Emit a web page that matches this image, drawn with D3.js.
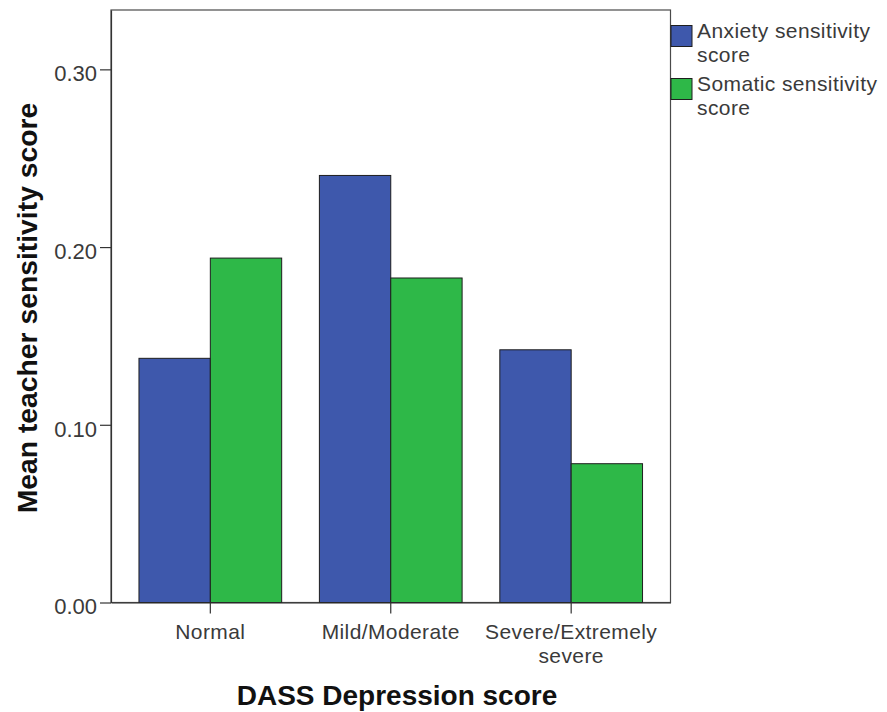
<!DOCTYPE html>
<html>
<head>
<meta charset="utf-8">
<script src="https://cdn.jsdelivr.net/npm/d3@7"></script>
<style>
  html, body { margin: 0; padding: 0; background: #ffffff; }
  svg { display: block; }
  text { font-family: "Liberation Sans", Arial, sans-serif; }
</style>
</head>
<body>
<svg id="chart" width="887" height="712"></svg>
<script>
// ---- data ----
const categories = ["Normal", "Mild/Moderate", "Severe/Extremely severe"];
const categoryLabelLines = [["Normal"], ["Mild/Moderate"], ["Severe/Extremely", "severe"]];
const seriesNames = ["Anxiety sensitivity score", "Somatic sensitivity score"];
const seriesLabelLines = [["Anxiety sensitivity", "score"], ["Somatic sensitivity", "score"]];
const anxietyValues = [0.1374, 0.2403, 0.1422];
const somaticValues = [0.1938, 0.1826, 0.0781];
const yTicks = [0.00, 0.10, 0.20, 0.30];
const yMax = 0.3334;
const seriesColors = ["#3E58AC", "#2EB848"];
const xTitle = "DASS Depression score";
const yTitle = "Mean teacher sensitivity score";

// ---- layout ----
const plot = { left: 111, right: 670.5, top: 10, bottom: 602.5 };
const svg = d3.select("#chart");

const x = d3.scaleBand()
  .domain(categories)
  .range([plot.left, plot.right])
  .paddingInner(0.209)
  .paddingOuter(0.155);

const xSub = d3.scaleBand()
  .domain(seriesNames)
  .range([0, x.bandwidth()])
  .padding(0);

const y = d3.scaleLinear()
  .domain([0, yMax])
  .range([plot.bottom, plot.top]);

const seriesValues = [anxietyValues, somaticValues];
const rows = [];
categories.forEach((c, ci) => {
  seriesNames.forEach((s, si) => {
    rows.push({ cat: c, series: s, si: si, value: seriesValues[si][ci] });
  });
});

// frame
svg.append("rect")
  .attr("x", plot.left)
  .attr("y", plot.top)
  .attr("width", plot.right - plot.left)
  .attr("height", plot.bottom - plot.top)
  .attr("fill", "none")
  .attr("stroke", "#4a4a4a")
  .attr("stroke-width", 1.2);

// bars
svg.append("g")
  .selectAll("rect")
  .data(rows)
  .join("rect")
  .attr("x", d => x(d.cat) + xSub(d.series))
  .attr("y", d => y(d.value))
  .attr("width", xSub.bandwidth())
  .attr("height", d => y(0) - y(d.value))
  .attr("fill", d => seriesColors[d.si])
  .attr("stroke", "#1e1e1e")
  .attr("stroke-width", 1);

// y axis
const yAxis = d3.axisLeft(y)
  .tickValues(yTicks)
  .tickFormat(d3.format(".2f"))
  .tickSizeInner(11)
  .tickSizeOuter(0)
  .tickPadding(3);
const gy = svg.append("g")
  .attr("transform", `translate(${plot.left},0)`)
  .call(yAxis);
gy.select(".domain").attr("stroke", "#333").attr("stroke-width", 1.2);
gy.selectAll(".tick line").attr("stroke", "#333").attr("stroke-width", 1.2);
gy.selectAll(".tick text")
  .attr("fill", "#3a3a3a")
  .attr("font-size", 22)
  .attr("dy", "0.52em")
  .style("font-family", "'Liberation Sans', Arial, sans-serif");

// x axis
const xAxis = d3.axisBottom(x).tickSizeInner(11).tickSizeOuter(0).tickFormat(() => "");
const gx = svg.append("g")
  .attr("transform", `translate(0,${plot.bottom})`)
  .call(xAxis);
gx.select(".domain").attr("stroke", "#333").attr("stroke-width", 1.2);
gx.selectAll(".tick line").attr("stroke", "#333").attr("stroke-width", 1.2);
gx.selectAll(".tick text").remove();
gx.selectAll(".tick")
  .append("text")
  .attr("text-anchor", "middle")
  .attr("fill", "#3a3a3a")
  .attr("font-size", 21)
  .attr("letter-spacing", 0.4)
  .style("font-family", "'Liberation Sans', Arial, sans-serif")
  .each(function(d) {
    const lines = categoryLabelLines[categories.indexOf(d)];
    const t = d3.select(this);
    lines.forEach((ln, i) => {
      t.append("tspan").attr("x", 0).attr("y", 36 + i * 24).text(ln);
    });
  });

// axis titles
svg.append("text")
  .attr("x", 397)
  .attr("y", 705)
  .attr("text-anchor", "middle")
  .attr("font-size", 28)
  .attr("font-weight", "bold")
  .attr("fill", "#111")
  .text(xTitle);

svg.append("text")
  .attr("transform", "translate(37,308) rotate(-90)")
  .attr("text-anchor", "middle")
  .attr("font-size", 28.3)
  .attr("font-weight", "bold")
  .attr("fill", "#111")
  .text(yTitle);

// legend
const legend = svg.append("g");
seriesNames.forEach((s, i) => {
  const g = legend.append("g").attr("transform", `translate(671,${25.5 + i * 53})`);
  g.append("rect")
    .attr("width", 21).attr("height", 21)
    .attr("fill", seriesColors[i])
    .attr("stroke", "#1e1e1e").attr("stroke-width", 1);
  const t = g.append("text")
    .attr("font-size", 21)
    .attr("letter-spacing", 0.4)
    .attr("fill", "#3a3a3a");
  seriesLabelLines[i].forEach((ln, j) => {
    t.append("tspan").attr("x", 26).attr("y", 12 + j * 24).text(ln);
  });
});
</script>
</body>
</html>
